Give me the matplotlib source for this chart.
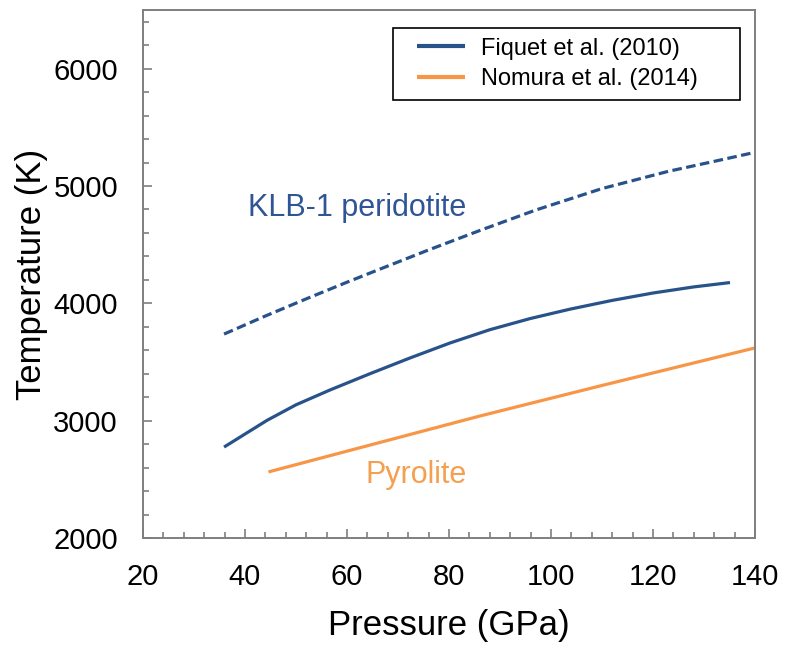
import numpy as np
import matplotlib
matplotlib.use('Agg')
import matplotlib.pyplot as plt
from matplotlib.ticker import MultipleLocator
from matplotlib.patches import Rectangle

plt.rcParams['font.family'] = ['Liberation Sans', 'DejaVu Sans']

# Fiquet et al. (2010) - solidus (solid) and liquidus (dashed), KLB-1 peridotite
fiq_p = [35.9, 44.3, 50.0, 56.7, 64.5, 72.4, 80.2, 88.0, 95.9, 103.7, 112.0, 120.0, 128.0, 135.1]
fiq_t = [2775, 3002, 3135, 3262, 3400, 3535, 3662, 3775, 3870, 3950, 4025, 4088, 4140, 4177]

liq_p = [35.9, 44.0, 52.0, 60.0, 68.0, 76.0, 86.0, 97.0, 110.0, 123.0, 132.0, 139.8]
liq_t = [3738, 3892, 4038, 4180, 4318, 4455, 4620, 4795, 4978, 5125, 5210, 5285]

# Nomura et al. (2014) - pyrolite
nom_p = [44.6, 60.0, 86.1, 110.0, 140.0]
nom_t = [2563, 2740, 3040, 3300, 3620]

blue = '#28528A'
orange = '#F79646'
spine_col = '#7F7F7F'

fig = plt.figure(figsize=(7.89, 6.46), dpi=100)
ax = fig.add_axes([0.1812, 0.1672, 0.7757, 0.8173])

ax.plot(fiq_p, fiq_t, color=blue, lw=2.3, label='Fiquet et al. (2010)', solid_capstyle='butt')
ax.plot(nom_p, nom_t, color=orange, lw=2.3, label='Nomura et al. (2014)', solid_capstyle='butt')
ax.plot(liq_p, liq_t, color=blue, lw=2.3, dashes=(3, 1.4))

ax.text(62, 4811, 'KLB-1 peridotite', color='#2F5597', fontsize=22, ha='center', va='center')
ax.text(73.5, 2535, 'Pyrolite', color='#F5A050', fontsize=22, ha='center', va='center')

ax.set_xlim(20, 140)
ax.set_ylim(2000, 6500)
ax.xaxis.set_major_locator(MultipleLocator(20))
ax.xaxis.set_minor_locator(MultipleLocator(4))
ax.yaxis.set_minor_locator(MultipleLocator(200))
ax.set_yticks([2000, 3000, 4000, 5000, 6000])

for s in ax.spines.values():
    s.set_color(spine_col)
    s.set_linewidth(1.4)

ax.tick_params(which='both', direction='in', color=spine_col, width=1.2,
               top=False, right=False, labelsize=21, labelcolor='black')
ax.tick_params(which='major', length=6.5, pad=18)
ax.tick_params(which='minor', length=4.3)

ax.set_xlabel('Pressure (GPa)', fontsize=25, labelpad=13)
ax.set_ylabel('Temperature (K)', fontsize=25, labelpad=4)

# legend box drawn separately so its size matches the original
ax.add_patch(Rectangle((0.4085, 0.8295), 0.567, 0.1364, transform=ax.transAxes,
                       fill=False, edgecolor='black', lw=1.2, zorder=5))
leg = ax.legend(loc='upper left', bbox_to_anchor=(0.4477, 0.9475), fontsize=17,
                frameon=False, handlelength=2.05, borderpad=0, borderaxespad=0,
                labelspacing=0.37, handletextpad=0.65)
for h in leg.get_lines():
    h.set_linewidth(3)

fig.savefig('out.png', dpi=100)
